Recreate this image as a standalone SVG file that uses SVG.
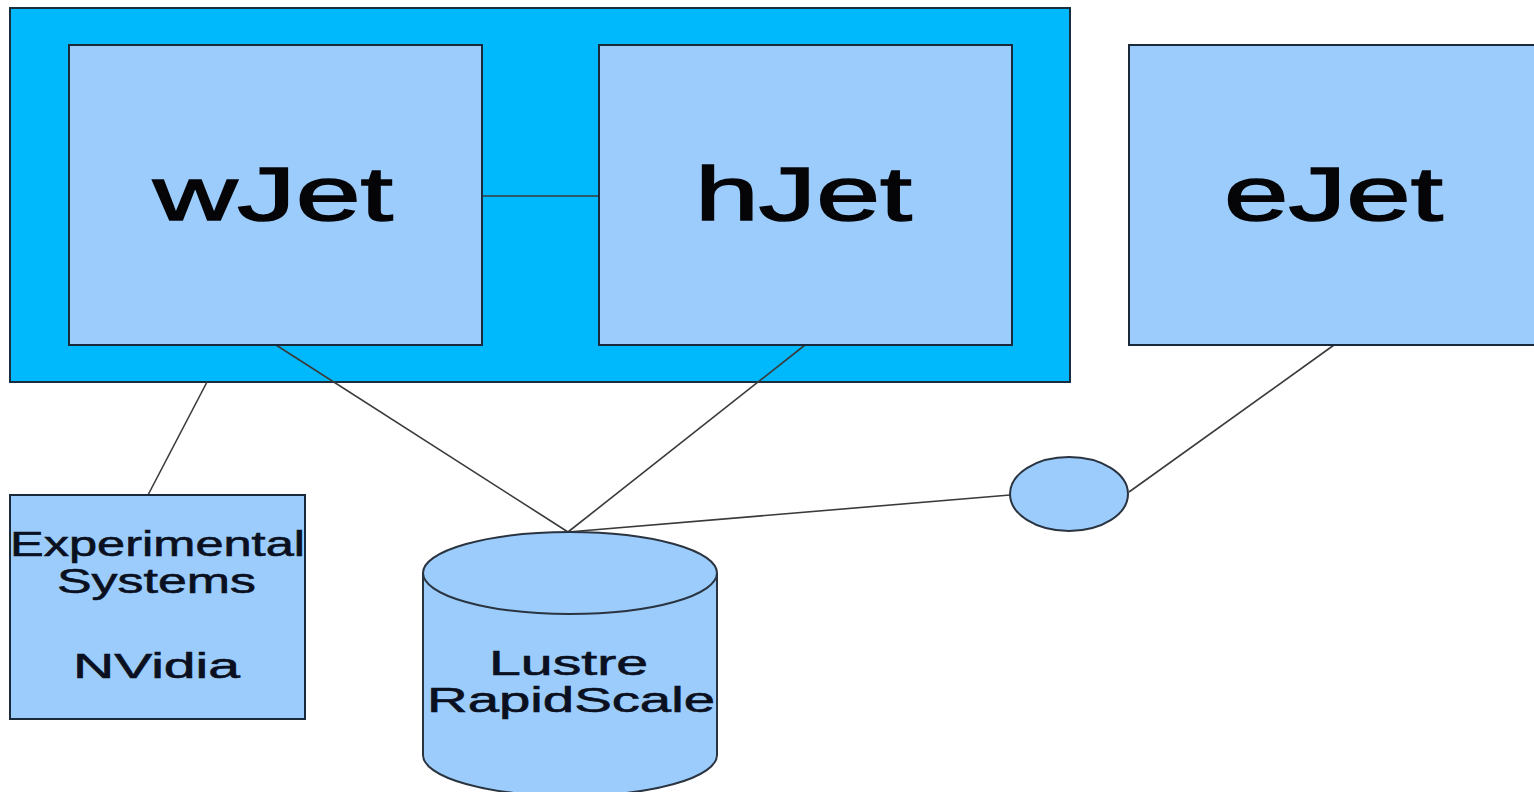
<svg xmlns="http://www.w3.org/2000/svg" width="1534" height="792" viewBox="0 0 1534 792">
  <style>
    .frame { fill: #00b9fc; stroke: #1b2e40; stroke-width: 2; }
    .box { fill: #9cccfc; stroke: #1b2a3a; stroke-width: 2; }
    .shape { fill: #9cccfc; stroke: #2a3440; stroke-width: 2; }
    .link { fill: none; stroke: #3a3a3a; stroke-width: 1.6; }
    .big { font-family: "Liberation Sans", Arial, sans-serif; font-size: 76px; fill: #050508; stroke: #050508; stroke-width: 1.5; }
    .small { font-family: "Liberation Sans", Arial, sans-serif; font-size: 35px; fill: #0a1020; stroke: #0a1020; stroke-width: 0.6; }
  </style>

  <rect width="1534" height="792" fill="#ffffff"/>

  <!-- cluster frame holding wJet and hJet -->
  <g id="cluster">
    <rect class="frame" x="10" y="8" width="1060" height="374"/>
  </g>

  <!-- connectors -->
  <g id="connectors">
    <line class="link" x1="482" y1="196" x2="599" y2="196"/>
    <line class="link" x1="207" y1="382" x2="148" y2="495"/>
    <line class="link" x1="276" y1="345" x2="568" y2="532"/>
    <line class="link" x1="805" y1="345" x2="568" y2="532"/>
    <line class="link" x1="568" y1="532" x2="1010" y2="495"/>
    <line class="link" x1="1129" y1="492" x2="1334" y2="345"/>
  </g>

  <g id="wjet">
    <rect class="box" x="69" y="45" width="413" height="300"/>
    <text class="big" x="153" y="220" textLength="240" lengthAdjust="spacingAndGlyphs">wJet</text>
  </g>

  <g id="hjet">
    <rect class="box" x="599" y="45" width="413" height="300"/>
    <text class="big" x="695" y="220" textLength="217" lengthAdjust="spacingAndGlyphs">hJet</text>
  </g>

  <g id="ejet">
    <rect class="box" x="1129" y="45" width="420" height="300"/>
    <text class="big" x="1224" y="220" textLength="219" lengthAdjust="spacingAndGlyphs">eJet</text>
  </g>

  <g id="experimental">
    <rect class="box" x="10" y="495" width="295" height="224"/>
    <text class="small" x="10" y="556" textLength="295" lengthAdjust="spacingAndGlyphs">Experimental</text>
    <text class="small" x="57" y="593" textLength="199" lengthAdjust="spacingAndGlyphs">Systems</text>
    <text class="small" x="73" y="678" textLength="167" lengthAdjust="spacingAndGlyphs">NVidia</text>
  </g>

  <g id="lustre">
    <path class="shape" d="M423 573 L423 755 A147 41 0 0 0 717 755 L717 573"/>
    <ellipse class="shape" cx="570" cy="573" rx="147" ry="41"/>
    <text class="small" x="489" y="675" textLength="159" lengthAdjust="spacingAndGlyphs">Lustre</text>
    <text class="small" x="427" y="712" textLength="288" lengthAdjust="spacingAndGlyphs">RapidScale</text>
  </g>

  <g id="junction">
    <ellipse class="shape" cx="1069" cy="494" rx="59" ry="37"/>
  </g>
</svg>
